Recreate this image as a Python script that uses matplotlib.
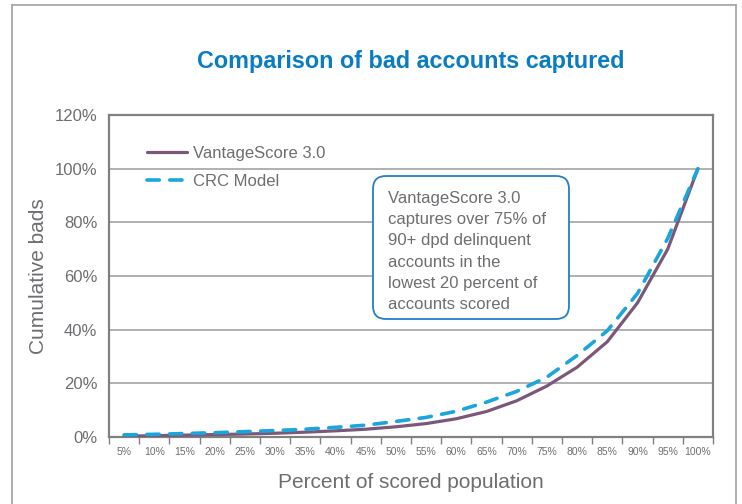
import matplotlib
matplotlib.use('Agg')
import matplotlib.pyplot as plt
from matplotlib.patches import FancyBboxPatch
from matplotlib.lines import Line2D
from matplotlib.ticker import FixedLocator

# ---- data ----
categories = ['5%', '10%', '15%', '20%', '25%', '30%', '35%', '40%', '45%', '50%',
              '55%', '60%', '65%', '70%', '75%', '80%', '85%', '90%', '95%', '100%']
vantage = [0.3, 0.5, 0.7, 0.9, 1.1, 1.4, 1.8, 2.3, 2.9, 3.8,
           5.0, 6.8, 9.5, 13.5, 19.0, 26.0, 35.5, 50.0, 70.0, 100.0]
crc = [0.8, 1.0, 1.3, 1.6, 2.0, 2.4, 2.9, 3.6, 4.4, 5.8,
       7.3, 9.6, 13.0, 17.0, 22.3, 30.4, 39.6, 53.5, 74.0, 100.0]
y_ticks = [0, 20, 40, 60, 80, 100, 120]
series_names = ['VantageScore 3.0', 'CRC Model']
title = 'Comparison of bad accounts captured'
x_label = 'Percent of scored population'
y_label = 'Cumulative bads'
note_lines = ['VantageScore 3.0', 'captures over 75% of', '90+ dpd delinquent',
              'accounts in the', 'lowest 20 percent of', 'accounts scored']

# ---- style ----
PURPLE = '#7c5878'
BLUE = '#1aa6dc'
TITLE_BLUE = '#0a7cc4'
TEXT = '#6d6e71'
FRAME = '#808080'
GRID = '#a3a3a3'
FONT = ['Liberation Sans', 'DejaVu Sans']
plt.rcParams['font.family'] = FONT

W, H = 742, 504
fig = plt.figure(figsize=(W / 100, H / 100), dpi=100)


def fx(px):
    return px / W


def fy(py):
    return 1 - py / H


L, R, T, B = 109, 713, 115, 437
ax = fig.add_axes([fx(L), fy(B), (R - L) / W, (B - T) / H])

x = list(range(len(categories)))
ax.plot(x, vantage, color=PURPLE, lw=2.3, solid_capstyle='round',
        solid_joinstyle='round', label=series_names[0], zorder=3)
ax.plot(x, crc, color=BLUE, lw=2.6, linestyle=(0, (3.4, 2.9)),
        dash_capstyle='round', label=series_names[1], zorder=4)

ax.set_xlim(-0.5, len(categories) - 0.5)
ax.set_ylim(0, 120)
ax.yaxis.set_major_locator(FixedLocator(y_ticks))
ax.set_yticklabels([f'{v}%' for v in y_ticks], fontsize=12, color=TEXT)
ax.tick_params(axis='y', length=0, pad=8.5)
ax.yaxis.grid(True, color=GRID, lw=1.2)
ax.set_axisbelow(True)

ax.xaxis.set_major_locator(FixedLocator(x))
ax.set_xticklabels(categories, fontsize=7.5, color=TEXT)
ax.xaxis.set_minor_locator(FixedLocator([i - 0.5 for i in range(len(categories) + 1)]))
ax.tick_params(axis='x', which='major', length=0, pad=7)
ax.tick_params(axis='x', which='minor', length=5, width=1, color=FRAME)

for s in ax.spines.values():
    s.set_color(FRAME)
    s.set_linewidth(1.6)

ax.set_xlabel(x_label, fontsize=15, color=TEXT, labelpad=11.5)
ax.set_ylabel(y_label, fontsize=15, color=TEXT, labelpad=5)

leg = ax.legend(loc='upper left', bbox_to_anchor=(fx(147), fy(146)),
                bbox_transform=fig.transFigure, frameon=False, fontsize=12,
                handlelength=2.4, handletextpad=0.35, labelspacing=0.75,
                borderpad=0, borderaxespad=0)
for t in leg.get_texts():
    t.set_color(TEXT)

fig.text(fx(410.5), fy(68), title, ha='center', va='baseline', fontsize=16.8,
         fontweight='bold', color=TITLE_BLUE)

# annotation box (pixel coordinates)
box = FancyBboxPatch((373, H - 319), 569 - 373, 319 - 176,
                     boxstyle='round,pad=0,rounding_size=13',
                     transform=None, facecolor='white', edgecolor='#2180c6',
                     lw=1.3, zorder=5)
fig.add_artist(box)
for i, line in enumerate(note_lines):
    fig.text(fx(388), fy(203 + i * 21.2), line, ha='left', va='baseline',
             fontsize=12, color=TEXT, zorder=6)

# outer frame
for xs, ys in [((12, 12), (504, 5)), ((12, 736), (5, 5)), ((736, 736), (5, 504))]:
    fig.add_artist(Line2D([fx(v) for v in xs], [fy(v) for v in ys],
                          transform=fig.transFigure, color='#a8a8a8', lw=1.3))

fig.savefig('out.png', dpi=100, facecolor='white')
